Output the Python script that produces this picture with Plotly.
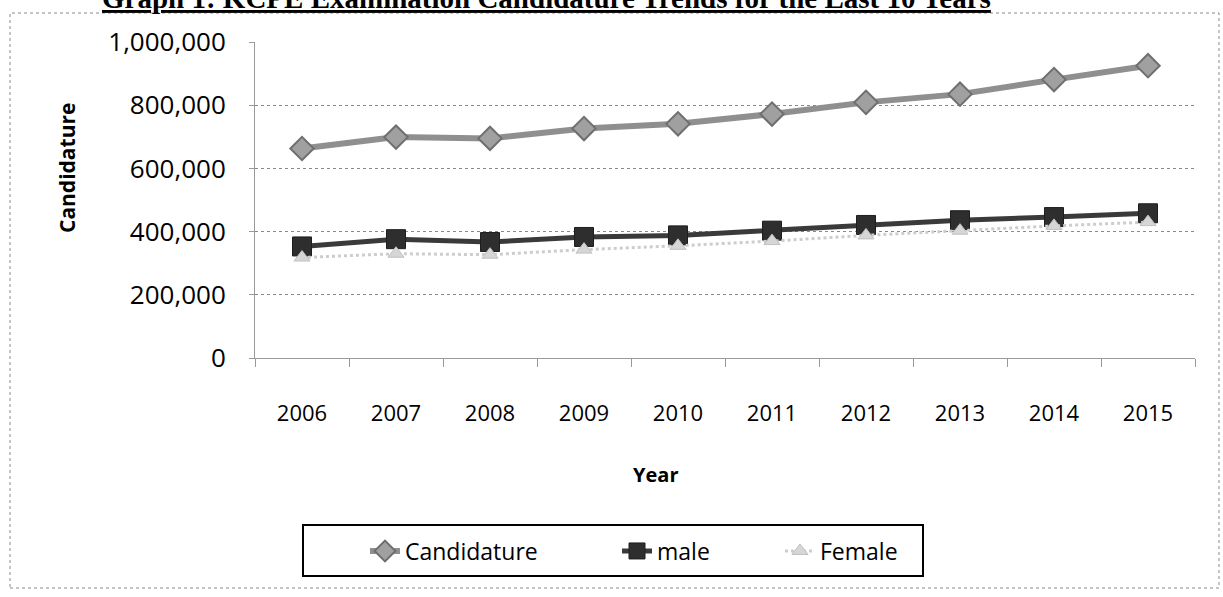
import plotly.graph_objects as go

years = ["2006", "2007", "2008", "2009", "2010", "2011", "2012", "2013", "2014", "2015"]
candidature = [663000, 699000, 695000, 726000, 741000, 772000, 809000, 835000, 881000, 925000]
male = [353000, 376000, 367000, 383000, 388000, 403000, 421000, 436000, 446000, 458000]
female = [318000, 330000, 327000, 343000, 355000, 370000, 388000, 403000, 418000, 430000]
y_ticks = [0, 200000, 400000, 600000, 800000, 1000000]

W, H = 1223, 597
L, R, T, B = 255, 28, 42, 239
PW = W - L - R
PH = H - T - B


def px(x):
    return (x - L) / PW


def py(y):
    return (H - B - y) / PH


FONT = "Open Sans"

fig = go.Figure()
fig.add_trace(go.Scatter(
    x=years, y=candidature, name="Candidature", mode="lines+markers",
    line=dict(color="#8f8f8f", width=6),
    marker=dict(symbol="diamond", size=18, color="#a0a0a0", line=dict(color="#6f6f6f", width=2)),
    legendwidth=207,
))
fig.add_trace(go.Scatter(
    x=years, y=male, name="male", mode="lines+markers",
    line=dict(color="#3a3a3a", width=5),
    marker=dict(symbol="square", size=19, color="#2e2e2e", line=dict(color="#1e1e1e", width=1)),
    legendwidth=118,
))
fig.add_trace(go.Scatter(
    x=years, y=female, name="Female", mode="lines+markers",
    line=dict(color="#cdcdcd", width=3, dash="dot"),
    marker=dict(symbol="triangle-up", size=14, color="#d6d6d6", line=dict(color="#c0c0c0", width=1)),
    legendwidth=90,
))

fig.update_layout(
    width=W, height=H,
    margin=dict(l=L, r=R, t=T, b=B),
    paper_bgcolor="white", plot_bgcolor="white",
    font=dict(family=FONT, color="black"),
    showlegend=True,
    legend=dict(
        orientation="h", x=px(365), xanchor="left", y=py(551), yanchor="middle",
        borderwidth=0, bgcolor="rgba(0,0,0,0)",
        font=dict(family=FONT, size=23, color="black"),
    ),
    xaxis=dict(
        type="category", range=[-0.5, 9.5],
        showgrid=False, showline=True, linecolor="#9a9a9a", linewidth=1,
        ticks="outside", tickson="boundaries", ticklen=8, tickcolor="#9a9a9a",
        tickfont=dict(family=FONT, size=22, color="black"),
        ticklabelstandoff=36, zeroline=False,
    ),
    yaxis=dict(
        range=[0, 1000000], tickvals=y_ticks, tickformat=",d",
        showgrid=True, gridcolor="#8a8a8a", griddash="dot", gridwidth=1,
        showline=True, linecolor="#9a9a9a", linewidth=1,
        ticks="outside", ticklen=5, tickcolor="#9a9a9a",
        tickfont=dict(family=FONT, size=26, color="black"),
        ticklabelstandoff=18, zeroline=False,
    ),
)

annotations = [
    dict(text="<b><u>Graph 1: KCPE Examination Candidature Trends for the Last 10 Years</u></b>",
         x=px(993), y=py(-2), xanchor="right", yanchor="middle",
         font=dict(family="Liberation Serif", size=29, color="black")),
    dict(text="<b>Candidature</b>", x=px(67), y=py(168), xanchor="center", yanchor="middle",
         textangle=-90, font=dict(family=FONT, size=21, color="black")),
    dict(text="<b>Year</b>", x=px(655), y=py(474), xanchor="center", yanchor="middle",
         font=dict(family=FONT, size=20, color="black")),
]
for a in annotations:
    a.update(xref="paper", yref="paper", showarrow=False)
fig.update_layout(annotations=annotations)

fig.add_shape(type="rect", xref="paper", yref="paper",
              x0=px(10), x1=px(1219), y0=py(588), y1=py(13),
              line=dict(color="#8a8a8a", width=1, dash="dot"), layer="below")
fig.add_shape(type="rect", xref="paper", yref="paper",
              x0=px(303), x1=px(923), y0=py(576), y1=py(525),
              line=dict(color="black", width=2), layer="above")

fig.write_html("out.html", config={"displayModeBar": False},
               post_script="document.body.style.margin='0';")
